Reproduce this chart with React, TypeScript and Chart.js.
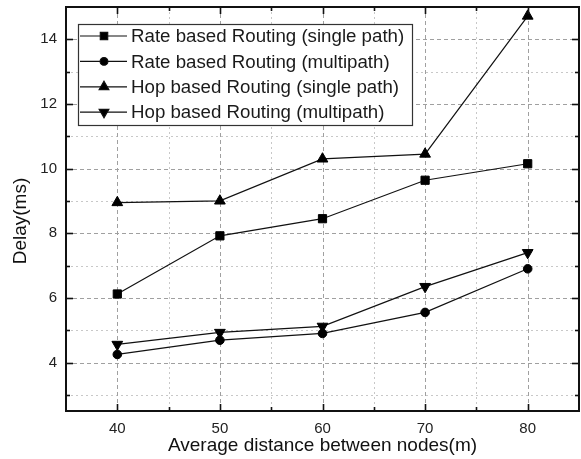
import React, { useEffect, useRef } from 'react';
import { Chart, registerables } from 'chart.js';
import { drawPoint } from 'chart.js/helpers';

Chart.register(...registerables);

const distances = [40, 50, 60, 70, 80];
const rateSingle = [6.12, 7.92, 8.45, 9.64, 10.15];
const rateMulti = [4.25, 4.69, 4.9, 5.55, 6.9];
const hopSingle = [8.95, 9.0, 10.3, 10.45, 14.72];
const hopMulti = [4.56, 4.93, 5.12, 6.35, 7.4];
const seriesLabels = [
  'Rate based Routing (single path)',
  'Rate based Routing (multipath)',
  'Hop based Routing (single path)',
  'Hop based Routing (multipath)',
];
const xTitle = 'Average distance between nodes(m)';
const yTitle = 'Delay(ms)';
const xMajorTicks = [40, 50, 60, 70, 80];
const xMinorTicks = [45, 55, 65, 75];
const yMajorTicks = [4, 6, 8, 10, 12, 14];
const yMinorTicks = [3, 5, 7, 9, 11, 13];

const FONT = "'Liberation Sans', Arial, sans-serif";

const framePlugin = {
  id: 'originFrame',
  beforeDraw(chart: any) {
    const { ctx, width, height } = chart;
    ctx.save();
    ctx.fillStyle = '#fff';
    ctx.fillRect(0, 0, width, height);
    ctx.restore();
  },
  beforeDatasetsDraw(chart: any) {
    const { ctx, chartArea: a, scales } = chart;
    const xs = scales.x, ys = scales.y;
    ctx.save();
    ctx.lineWidth = 1;
    ctx.strokeStyle = '#c8c8c8';
    ctx.setLineDash([2, 3]);
    xMinorTicks.forEach((v) => {
      const px = Math.round(xs.getPixelForValue(v)) + 0.5;
      ctx.beginPath(); ctx.moveTo(px, a.top); ctx.lineTo(px, a.bottom); ctx.stroke();
    });
    yMinorTicks.forEach((v) => {
      const py = Math.round(ys.getPixelForValue(v)) + 0.5;
      ctx.beginPath(); ctx.moveTo(a.left, py); ctx.lineTo(a.right, py); ctx.stroke();
    });
    ctx.strokeStyle = '#a0a0a0';
    ctx.setLineDash([4, 3]);
    xMajorTicks.forEach((v) => {
      const px = Math.round(xs.getPixelForValue(v)) + 0.5;
      ctx.beginPath(); ctx.moveTo(px, a.top); ctx.lineTo(px, a.bottom); ctx.stroke();
    });
    yMajorTicks.forEach((v) => {
      const py = Math.round(ys.getPixelForValue(v)) + 0.5;
      ctx.beginPath(); ctx.moveTo(a.left, py); ctx.lineTo(a.right, py); ctx.stroke();
    });
    ctx.restore();
  },
  afterDatasetsDraw(chart: any) {
    const { ctx, chartArea: a, scales } = chart;
    const xs = scales.x, ys = scales.y;
    ctx.save();
    ctx.setLineDash([]);
    ctx.strokeStyle = '#111';
    ctx.lineWidth = 2;
    ctx.strokeRect(a.left, a.top, a.right - a.left, a.bottom - a.top);
    ctx.lineWidth = 1.6;
    const tick = (x1: number, y1: number, x2: number, y2: number) => {
      ctx.beginPath(); ctx.moveTo(x1, y1); ctx.lineTo(x2, y2); ctx.stroke();
    };
    const major = 7, minor = 4;
    xMajorTicks.forEach((v) => {
      const px = Math.round(xs.getPixelForValue(v)) + 0.5;
      tick(px, a.bottom, px, a.bottom - major);
      tick(px, a.top, px, a.top + major);
    });
    xMinorTicks.forEach((v) => {
      const px = Math.round(xs.getPixelForValue(v)) + 0.5;
      tick(px, a.bottom, px, a.bottom - minor);
      tick(px, a.top, px, a.top + minor);
    });
    yMajorTicks.forEach((v) => {
      const py = Math.round(ys.getPixelForValue(v)) + 0.5;
      tick(a.left, py, a.left + major, py);
      tick(a.right, py, a.right - major, py);
    });
    yMinorTicks.forEach((v) => {
      const py = Math.round(ys.getPixelForValue(v)) + 0.5;
      tick(a.left, py, a.left + minor, py);
      tick(a.right, py, a.right - minor, py);
    });

    // y axis title
    ctx.save();
    ctx.translate(21, 221);
    ctx.rotate(-Math.PI / 2);
    ctx.font = `19px ${FONT}`;
    ctx.fillStyle = '#111';
    ctx.textAlign = 'center';
    ctx.textBaseline = 'middle';
    ctx.fillText(yTitle, 0, 0);
    ctx.restore();

    // legend
    const bx = 78, by = 24, bw = 334, bh = 101;
    ctx.fillStyle = '#fff';
    ctx.fillRect(bx, by, bw, bh);
    ctx.strokeStyle = '#333';
    ctx.lineWidth = 1.2;
    ctx.strokeRect(bx + 0.5, by + 0.5, bw, bh);
    ctx.font = `18.7px ${FONT}`;
    ctx.textBaseline = 'middle';
    ctx.textAlign = 'left';
    chart.data.datasets.forEach((ds: any, i: number) => {
      const cy = by + 12 + i * 25.4;
      ctx.strokeStyle = '#111';
      ctx.lineWidth = 1.2;
      ctx.beginPath(); ctx.moveTo(bx + 2, cy); ctx.lineTo(bx + 49, cy); ctx.stroke();
      ctx.fillStyle = '#000';
      drawPoint(ctx, {
        pointStyle: ds.pointStyle,
        radius: ds.pointRadius * 0.9,
        rotation: ds.pointRotation || 0,
        borderWidth: 1,
      }, bx + 26, cy);
      ctx.fillStyle = '#1a1a1a';
      ctx.fillText(ds.label, bx + 53, cy + 1);
    });
    ctx.restore();
  },
};

export default function App() {
  const ref = useRef<HTMLCanvasElement | null>(null);
  useEffect(() => {
    document.body.style.margin = '0';
    const canvas = ref.current;
    if (!canvas) return;
    const mk = (vals: number[]) => distances.map((x, i) => ({ x, y: vals[i] }));
    const common = {
      borderColor: '#111',
      backgroundColor: '#000',
      pointBackgroundColor: '#000',
      pointBorderColor: '#000',
      borderWidth: 1.2,
      pointBorderWidth: 1,
      tension: 0,
    };
    const chart = new Chart(canvas, {
      type: 'line',
      data: {
        datasets: [
          { ...common, label: seriesLabels[0], data: mk(rateSingle), pointStyle: 'rect', pointRadius: 5.8 },
          { ...common, label: seriesLabels[1], data: mk(rateMulti), pointStyle: 'circle', pointRadius: 4.3 },
          { ...common, label: seriesLabels[2], data: mk(hopSingle), pointStyle: 'triangle', pointRadius: 6.2 },
          { ...common, label: seriesLabels[3], data: mk(hopMulti), pointStyle: 'triangle', pointRadius: 6.2, pointRotation: 180 },
        ],
      },
      options: {
        animation: false,
        responsive: false,
        events: [],
        layout: { autoPadding: false, padding: { top: 7, right: 2, left: 0, bottom: 0 } },
        plugins: { legend: { display: false }, tooltip: { enabled: false } },
        scales: {
          x: {
            type: 'linear',
            min: 35,
            max: 85,
            afterBuildTicks: (s: any) => { s.ticks = xMajorTicks.map((v) => ({ value: v })); },
            afterFit: (s: any) => { s.height = 48; s.paddingLeft = 0; s.paddingRight = 0; },
            grid: { display: false, drawTicks: false },
            border: { display: false },
            ticks: { color: '#222', font: { family: FONT, size: 15 }, padding: 9, maxRotation: 0, autoSkip: false },
            title: {
              display: true,
              text: xTitle,
              color: '#111',
              font: { family: FONT, size: 19 },
              padding: { top: 0, bottom: 2 },
            },
          },
          y: {
            type: 'linear',
            min: 2.5,
            max: 15,
            afterBuildTicks: (s: any) => { s.ticks = yMajorTicks.map((v) => ({ value: v })); },
            afterFit: (s: any) => { s.width = 66; s.paddingTop = 0; s.paddingBottom = 0; },
            grid: { display: false, drawTicks: false },
            border: { display: false },
            ticks: { color: '#222', font: { family: FONT, size: 15 }, padding: 9, autoSkip: false },
            title: { display: false },
          },
        },
      },
      plugins: [framePlugin],
    } as any);
    return () => chart.destroy();
  }, []);
  return <canvas ref={ref} width={581} height={459} style={{ display: 'block' }} />;
}
